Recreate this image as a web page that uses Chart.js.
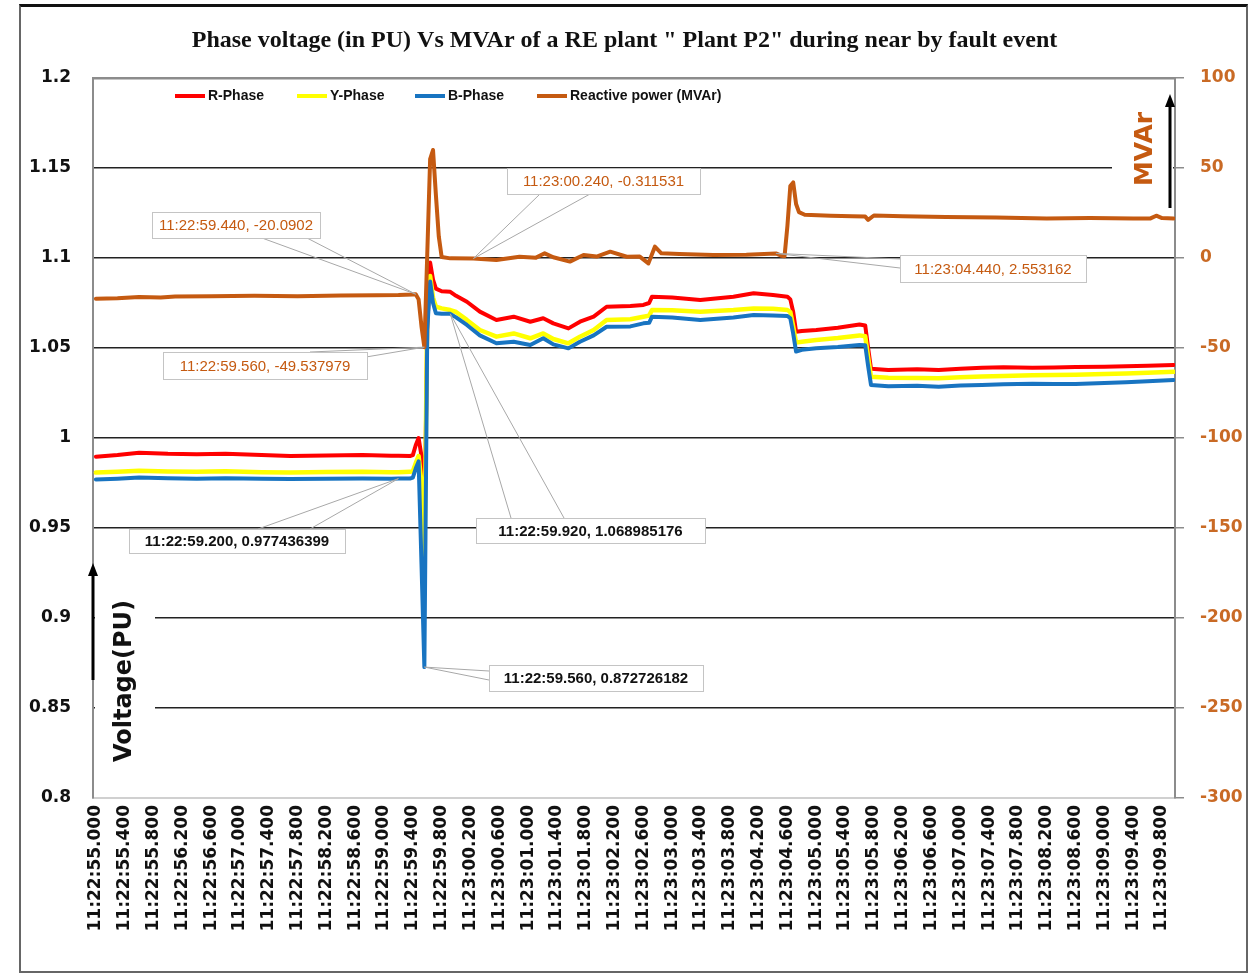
<!DOCTYPE html>
<html>
<head>
<meta charset="utf-8">
<script src="https://cdn.jsdelivr.net/npm/chart.js@4.4.1/dist/chart.umd.min.js"></script>
<style>
  html, body { margin: 0; padding: 0; background: #fff; }
  #wrap { position: relative; width: 1249px; height: 973px; }
  #frame { position: absolute; left: 19px; top: 4px; width: 1225px; height: 964px;
           border: 2px solid #666; border-top: 3px solid #111; pointer-events: none; }
</style>
</head>
<body>
<div id="wrap">
  <canvas id="chart" width="1249" height="973"></canvas>
  <div id="frame"></div>
</div>
<script>
// time axis: seconds after 11:22:55.000
const vTime = [0, 0.3, 0.6, 1.0, 1.4, 1.8, 2.3, 2.7, 3.2, 3.7,
  4.1, 4.2, 4.36, 4.40, 4.44, 4.48, 4.52, 4.56, 4.60, 4.64,
  4.68, 4.72, 4.80, 4.92, 5.00, 5.15, 5.33, 5.56, 5.80, 6.03,
  6.21, 6.35, 6.56, 6.72, 6.91, 7.09, 7.42, 7.60, 7.68, 7.72,
  8.00, 8.39, 8.85, 9.13, 9.40, 9.60, 9.64, 9.68, 9.72, 9.80,
  10.00, 10.30, 10.60, 10.68, 10.72, 10.76, 11.00, 11.40, 11.70, 12.00,
  12.30, 12.60, 13.00, 13.30, 13.60, 14.00, 14.30, 14.60, 14.96];

const rPhase = [0.9896, 0.9905, 0.9918, 0.9912, 0.9910, 0.9913, 0.9905, 0.9900, 0.9903, 0.9906,
  0.9902, 0.9901, 0.9900, 0.9905, 0.9960, 1.0000, 0.9900, 0.9450, 1.0600, 1.0975,
  1.0880, 1.0830, 1.0815, 1.0812, 1.0790, 1.0757, 1.0702, 1.0656, 1.0674, 1.0646,
  1.0665, 1.0637, 1.0609, 1.0646, 1.0674, 1.0729, 1.0733, 1.0739, 1.0750, 1.0785,
  1.0780, 1.0767, 1.0785, 1.0804, 1.0794, 1.0785, 1.0770, 1.0700, 1.0590, 1.0595,
  1.0600, 1.0612, 1.0630, 1.0625, 1.0500, 1.0385, 1.0378, 1.0382, 1.0378, 1.0385,
  1.0390, 1.0393, 1.0390, 1.0392, 1.0394, 1.0396, 1.0398, 1.0401, 1.0406];

const yPhase = [0.9808, 0.9812, 0.9818, 0.9814, 0.9812, 0.9815, 0.9810, 0.9808, 0.9811, 0.9813,
  0.9810, 0.9810, 0.9812, 0.9815, 0.9860, 0.9900, 0.9750, 0.9300, 1.0700, 1.0900,
  1.0780, 1.0730, 1.0720, 1.0711, 1.0700, 1.0656, 1.0600, 1.0563, 1.0581, 1.0554,
  1.0581, 1.0550, 1.0526, 1.0563, 1.0600, 1.0656, 1.0660, 1.0674, 1.0680, 1.0711,
  1.0710, 1.0702, 1.0711, 1.0720, 1.0718, 1.0711, 1.0700, 1.0620, 1.0530, 1.0535,
  1.0545, 1.0555, 1.0570, 1.0565, 1.0450, 1.0340, 1.0335, 1.0333, 1.0332, 1.0338,
  1.0342, 1.0345, 1.0348, 1.0350, 1.0352, 1.0355, 1.0358, 1.0362, 1.0368];

const bPhase = [0.9770, 0.9774, 0.9780, 0.9776, 0.9774, 0.9777, 0.9773, 0.9772, 0.9774, 0.9775,
  0.9773, 0.977436399, 0.9775, 0.9780, 0.9830, 0.9870, 0.9300, 0.872726182, 1.0600, 1.0870,
  1.0750, 1.0693, 1.0690, 1.068985176, 1.0670, 1.0628, 1.0570, 1.0526, 1.0535, 1.0517,
  1.0554, 1.0520, 1.0498, 1.0535, 1.0570, 1.0618, 1.0620, 1.0637, 1.0640, 1.0674,
  1.0670, 1.0656, 1.0670, 1.0683, 1.0680, 1.0678, 1.0665, 1.0580, 1.0480, 1.0490,
  1.0498, 1.0505, 1.0517, 1.0515, 1.0400, 1.0295, 1.0288, 1.0290, 1.0285, 1.0292,
  1.0295, 1.0298, 1.0302, 1.0300, 1.0300, 1.0306, 1.0310, 1.0315, 1.0322];

const qTime = [0, 0.3, 0.6, 0.9, 1.1, 1.6, 2.2, 2.8, 3.4, 3.9,
  4.2, 4.40, 4.44, 4.48, 4.52, 4.56, 4.60, 4.64, 4.68, 4.72,
  4.76, 4.80, 4.92, 5.24, 5.56, 5.88, 6.11, 6.23, 6.35, 6.58,
  6.77, 6.95, 7.14, 7.37, 7.55, 7.67, 7.76, 7.85, 8.10, 8.57,
  9.03, 9.44, 9.52, 9.56, 9.60, 9.64, 9.68, 9.72, 9.76, 9.84,
  10.20, 10.50, 10.68, 10.72, 10.80, 11.20, 11.80, 12.50, 13.20, 13.80,
  14.40, 14.64, 14.72, 14.80, 14.96];

const mvar = [-22.6, -22.3, -21.6, -22.0, -21.4, -21.3, -21.0, -21.2, -20.9, -20.7,
  -20.6, -20.3, -20.0902, -23.0, -38.0, -49.537979, 2.0, 55.0, 60.0, 35.0,
  12.0, 0.6, -0.2, -0.311531, -1.1, 0.7, 0.2, 2.6, 0.4, -2.0,
  1.7, 0.8, 3.5, 0.7, 0.8, -3.0, 6.3, 2.6, 2.2, 1.7,
  1.8, 2.553162, 1.2, 1.0, 18.0, 40.0, 42.0, 30.0, 25.5, 24.0,
  23.5, 23.2, 23.0, 21.2, 23.6, 23.2, 22.8, 22.5, 22.0, 22.2,
  22.0, 22.0, 23.5, 22.2, 22.0];

const voltTicks = { min: 0.8, max: 1.2, step: 0.05 };
const mvarTicks = { min: -300, max: 100, step: 50 };

const ORANGE = '#C55A11';
const BASE = 11 * 3600 + 22 * 60 + 55;

function pad(n, w) { return String(n).padStart(w || 2, '0'); }
function fmtTime(t) {
  const ms = Math.round((BASE + t) * 1000);
  const h = Math.floor(ms / 3600000);
  const m = Math.floor(ms / 60000) % 60;
  const s = Math.floor(ms / 1000) % 60;
  return h + ':' + pad(m) + ':' + pad(s) + '.' + pad(ms % 1000, 3);
}
function points(xs, ys) { return xs.map((x, i) => ({ x: x, y: ys[i] })); }

// data labels shown in the picture (box position is layout only)
const callouts = [
  { t: qTime, v: mvar, i: 12, axis: 'y2', color: ORANGE, bold: false, box: [152, 212, 168, 26], from: [[262, 238], [307, 238]] },
  { t: qTime, v: mvar, i: 15, axis: 'y2', color: ORANGE, bold: false, box: [163, 352, 204, 27], from: [[310, 352], [366, 357]] },
  { t: qTime, v: mvar, i: 23, axis: 'y2', color: ORANGE, bold: false, box: [507, 168, 193, 26], from: [[540, 194], [590, 194]] },
  { t: qTime, v: mvar, i: 41, axis: 'y2', color: ORANGE, bold: false, box: [900, 255, 186, 27], from: [[900, 259], [900, 268]] },
  { t: vTime, v: bPhase, i: 11, axis: 'y', color: '#111', bold: true, box: [129, 529, 216, 24], from: [[258, 529], [310, 529]] },
  { t: vTime, v: bPhase, i: 23, axis: 'y', color: '#111', bold: true, box: [476, 518, 229, 25], from: [[511, 518], [564, 518]] },
  { t: vTime, v: bPhase, i: 17, axis: 'y', color: '#111', bold: true, box: [489, 665, 214, 26], from: [[489, 671], [489, 680]] }
];

function arrowUp(ctx, x, yBottom, yTop) {
  ctx.strokeStyle = '#000';
  ctx.fillStyle = '#000';
  ctx.lineWidth = 3;
  ctx.beginPath();
  ctx.moveTo(x, yBottom);
  ctx.lineTo(x, yTop + 10);
  ctx.stroke();
  ctx.beginPath();
  ctx.moveTo(x, yTop);
  ctx.lineTo(x - 5, yTop + 13);
  ctx.lineTo(x + 5, yTop + 13);
  ctx.closePath();
  ctx.fill();
}

function vText(ctx, text, x, y, font, color) {
  ctx.save();
  ctx.translate(x, y);
  ctx.rotate(-Math.PI / 2);
  ctx.font = font;
  ctx.fillStyle = color;
  ctx.textAlign = 'center';
  ctx.textBaseline = 'middle';
  ctx.fillText(text, 0, 0);
  ctx.restore();
}

const decor = {
  id: 'decor',
  beforeDatasetsDraw(chart) {
    const ctx = chart.ctx;
    ctx.save();
    ctx.fillStyle = '#fff';
    ctx.fillRect(95, 556, 60, 222);
    ctx.fillRect(1112, 86, 61, 124);
    ctx.restore();
  },
  afterDatasetsDraw(chart) {
    const ctx = chart.ctx;
    ctx.save();

    // legend inside the plot
    const legendX = [175, 297, 415, 537];
    ctx.font = 'bold 14px "Liberation Sans", Arial, sans-serif';
    ctx.textBaseline = 'middle';
    ctx.textAlign = 'left';
    chart.data.datasets.forEach((ds, k) => {
      const x = legendX[k];
      ctx.strokeStyle = ds.borderColor;
      ctx.lineWidth = 4;
      ctx.beginPath();
      ctx.moveTo(x, 96);
      ctx.lineTo(x + 30, 96);
      ctx.stroke();
      ctx.fillStyle = '#111';
      ctx.fillText(ds.label, x + 33, 96);
    });

    // axis captions
    vText(ctx, 'Voltage(PU)', 125, 681, 'bold 24px "DejaVu Sans", sans-serif', '#111');
    arrowUp(ctx, 93, 680, 563);
    vText(ctx, 'MVAr', 1145, 149, 'bold 25px "DejaVu Sans", sans-serif', ORANGE);
    arrowUp(ctx, 1170, 208, 94);

    // callouts
    callouts.forEach(c => {
      const px = chart.scales.x.getPixelForValue(c.t[c.i]);
      const py = chart.scales[c.axis].getPixelForValue(c.v[c.i]);
      ctx.strokeStyle = '#a8a8a8';
      ctx.lineWidth = 1;
      c.from.forEach(f => {
        ctx.beginPath();
        ctx.moveTo(f[0], f[1]);
        ctx.lineTo(px, py);
        ctx.stroke();
      });
      const [bx, by, bw, bh] = c.box;
      ctx.fillStyle = '#fff';
      ctx.fillRect(bx, by, bw, bh);
      ctx.strokeStyle = '#c4c4c4';
      ctx.strokeRect(bx + 0.5, by + 0.5, bw, bh);
      ctx.font = (c.bold ? 'bold ' : '') + '15px "Liberation Sans", Arial, sans-serif';
      ctx.fillStyle = c.color;
      ctx.textAlign = 'center';
      ctx.textBaseline = 'middle';
      ctx.fillText(fmtTime(c.t[c.i]) + ', ' + c.v[c.i], bx + bw / 2, by + bh / 2 + 1);
    });
    ctx.restore();
  }
};

function near(a, b) { return Math.abs(a - b) < 1e-6; }

new Chart(document.getElementById('chart'), {
  type: 'line',
  data: {
    datasets: [
      { label: 'R-Phase', data: points(vTime, rPhase), borderColor: '#FF0000', borderWidth: 4, yAxisID: 'y', order: 3 },
      { label: 'Y-Phase', data: points(vTime, yPhase), borderColor: '#FFFF00', borderWidth: 4.5, yAxisID: 'y', order: 2 },
      { label: 'B-Phase', data: points(vTime, bPhase), borderColor: '#1874C1', borderWidth: 4, yAxisID: 'y', order: 1 },
      { label: 'Reactive power (MVAr)', data: points(qTime, mvar), borderColor: ORANGE, borderWidth: 4, yAxisID: 'y2', order: 0 }
    ]
  },
  options: {
    responsive: false,
    animation: false,
    layout: { padding: 0 },
    elements: {
      point: { radius: 0 },
      line: { tension: 0, borderJoinStyle: 'round', borderCapStyle: 'round', fill: false }
    },
    plugins: {
      legend: { display: false },
      tooltip: { enabled: false },
      title: {
        display: true,
        text: 'Phase voltage (in PU) Vs MVAr of a RE plant " Plant P2" during near by fault event',
        color: '#111',
        font: { family: '"Liberation Serif", "Times New Roman", serif', size: 24, weight: 'bold', lineHeight: 1.2 },
        padding: { top: 26, bottom: 23.2 }
      }
    },
    scales: {
      x: {
        type: 'linear',
        min: -0.04,
        max: 14.98,
        afterFit(scale) { scale.height = 175; },
        grid: { display: true, drawOnChartArea: false, drawTicks: false },
        border: { display: true, color: '#d0d0d0', width: 2 },
        ticks: {
          stepSize: 0.4,
          includeBounds: false,
          autoSkip: false,
          minRotation: 90,
          maxRotation: 90,
          padding: 7,
          color: '#111',
          font: { family: '"DejaVu Sans", sans-serif', size: 17, weight: 'bold' },
          callback: v => fmtTime(v)
        }
      },
      y: {
        position: 'left',
        min: voltTicks.min,
        max: voltTicks.max,
        afterFit(scale) { scale.width = 93; },
        grid: {
          drawTicks: false,
          color: c => near(c.tick.value, voltTicks.max) ? '#8c8c8c' : (near(c.tick.value, voltTicks.min) ? 'rgba(0,0,0,0)' : '#222'),
          lineWidth: c => near(c.tick.value, voltTicks.max) ? 2.5 : 1.5
        },
        border: { display: true, color: '#8c8c8c', width: 2 },
        ticks: {
          stepSize: voltTicks.step,
          padding: 22,
          color: '#111',
          font: { family: '"DejaVu Sans", sans-serif', size: 17, weight: 'bold' },
          callback: v => String(Number(v.toFixed(2)))
        }
      },
      y2: {
        position: 'right',
        min: mvarTicks.min,
        max: mvarTicks.max,
        afterFit(scale) { scale.width = 74; },
        grid: { drawOnChartArea: false, drawTicks: true, tickLength: 9, color: '#8c8c8c', lineWidth: 1.5 },
        border: { display: true, color: '#8c8c8c', width: 2 },
        ticks: {
          stepSize: mvarTicks.step,
          padding: 16,
          color: '#C96A25',
          font: { family: '"DejaVu Sans", sans-serif', size: 17, weight: 'bold' }
        }
      }
    }
  },
  plugins: [decor]
});
</script>
</body>
</html>
